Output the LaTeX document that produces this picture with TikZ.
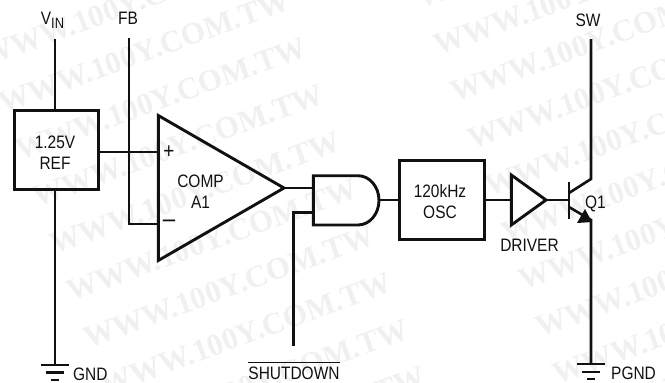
\documentclass[tikz,border=0pt]{standalone}
\usepackage{fontspec}
\setmainfont[FakeStretch=0.86]{Liberation Sans}
\newfontfamily\wmfont{Liberation Serif}
\usetikzlibrary{arrows.meta,calc}
\definecolor{ink}{HTML}{111111}
\definecolor{wm}{HTML}{F0F0F0}
\tikzset{
  wire/.style={line width=2.6pt,draw=ink,line join=miter},
  outline/.style={line width=2.9pt,draw=ink,line join=miter},
  block/.style={draw=ink,line width=2.9pt,inner sep=0pt},
  lab/.style={inner sep=0pt,align=center,font=\fontsize{18}{21}\selectfont,text=ink},
  blab/.style={lab,anchor=base},
  watermark/.style={inner sep=0pt,rotate=20,text=wm,font=\wmfont\bfseries\fontsize{31}{31}\selectfont},
}
\begin{document}
\begin{tikzpicture}[x=1pt,y=-1pt]
\useasboundingbox (0,0) rectangle (665,383);
% watermark
\foreach \k in {-6,...,3}{
  \node[watermark] (wl\k) at ({229+17*\k},{287+47*\k}) {WWW.100Y.COM.TW};
}
\foreach \k in {-1,...,8}{
  \node[watermark] (wr\k) at ({579+17*\k},{-6+47*\k}) {WWW.100Y.COM.TW};
}
% blocks
\node[block,minimum width=84.5pt,minimum height=79.5pt] (ref) at (56.5,150) {};
\node[block,minimum width=85.4pt,minimum height=79.5pt] (osc) at (442,200) {};
\node[lab] (reflab) at (55,152.5) {1.25V\\REF};
\node[lab] (osclab) at (440,202) {120kHz\\OSC};
% labels
\node[blab] (vin) at (52.5,24) {V\raisebox{-4pt}{\fontsize{15}{15}\selectfont IN}};
\node[blab] (fb) at (128,24) {FB};
\node[blab] (sw) at (588,26) {SW};
\node[blab,anchor=base west] (gnd) at (73,380) {GND};
\node[blab,anchor=base west] (pgnd) at (611,379) {PGND};
\node[blab] (shd) at (294,379) {\vbox{\hrule height 0.9pt\kern 3.5pt\hbox{SHUTDOWN}}};
\node[lab] (comp) at (200.5,191.5) {COMP\\A1};
\node[blab] (q1) at (595.5,208) {Q1};
\node[blab] (drv) at (529.5,251) {DRIVER};
\node[lab,font=\fontsize{22}{22}\selectfont] (plus) at (169,152) {+};
\node[lab,font=\fontsize{26}{26}\selectfont] (minus) at (169,224) {–};
% coordinates
\coordinate (vintop) at (55,39);
\coordinate (fbtop) at (129,38);
\coordinate (fbc) at (129,224);
\coordinate (gndt) at (55,364);
\coordinate (ap) at (158,152);
\coordinate (am) at (158,224);
\coordinate (aout) at (284,188);
\coordinate (g1) at (312.5,188);
\coordinate (g2) at (312.5,212.7);
\coordinate (sdb) at (293.7,345.7);
\coordinate (sdc) at (293.7,212.7);
\coordinate (gout) at (379,200);
\coordinate (dinp) at (511.3,200);
\coordinate (dout) at (546,200);
\coordinate (base) at (569,200);
\coordinate (coll) at (591,179);
\coordinate (swt) at (591,39);
\coordinate (emit) at (591,220);
\coordinate (pg) at (591,363);
% op amp, gate, driver
\draw[outline] (158.3,115.5) -- (aout) -- (158.3,260.5) -- cycle;
\draw[outline] (358,175.7) -- (313.3,175.7) -- (313.3,225) -- (358,225) arc[start angle=90,end angle=-90,x radius=21pt,y radius=-24.65pt];
\draw[outline] (511.3,175) -- (dout) -- (511.3,225) -- cycle;
% wires
\draw[wire] (vintop) -- (ref.north -| vintop);
\draw[wire] (ref.south -| vintop) -- (gndt);
\draw[wire] (fbtop) -- (fbc) -- (am);
\draw[wire] (ref.east |- ap) -- (ap);
\draw[wire] (aout) -- (g1);
\draw[wire] (sdb) -- (sdc) -- (g2);
\draw[wire] (gout) -- (osc.west |- gout);
\draw[wire] (osc.east |- dinp) -- (dinp);
\draw[wire] (dout) -- (base);
% transistor
\draw[outline] (569,182) -- (569,219);
\draw[wire] (569,193) -- (coll) -- (swt);
\draw[wire] (569,207) -- (emit) -- (pg);
\fill[ink] (592,222) -- (577,223) -- (585,209) -- cycle;
% grounds
\foreach \c/\y/\w in {55/365/13.7,55/372.7/9.3,55/380/4.2,591/364/13.7,591/372/9.3,591/379/4.2}{
  \draw[wire] (\c-\w,\y) -- (\c+\w,\y);
}
\end{tikzpicture}
\end{document}
